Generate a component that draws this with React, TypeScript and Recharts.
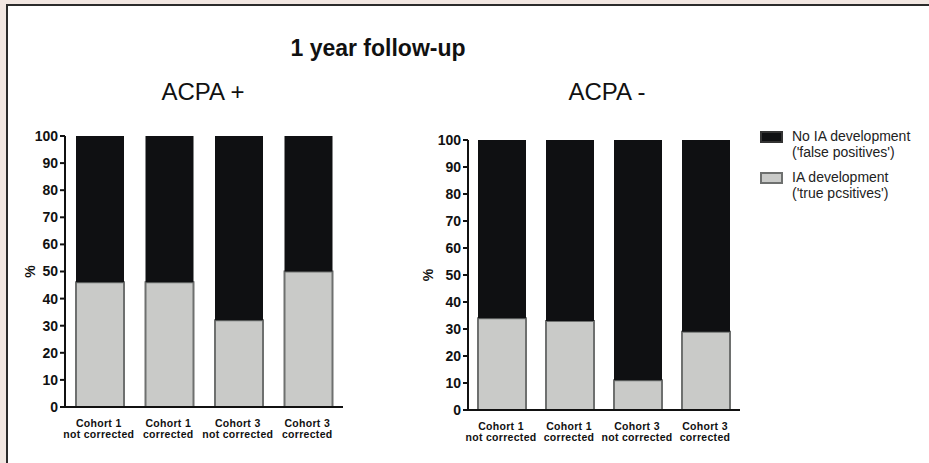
import React from 'react';
import { BarChart, Bar, XAxis, YAxis } from 'recharts';

const categories = [
  'Cohort 1|not corrected',
  'Cohort 1|corrected',
  'Cohort 3|not corrected',
  'Cohort 3|corrected',
];
const acpaPosTrue = [46, 46, 32, 50];
const acpaPosFalse = [54, 54, 68, 50];
const acpaNegTrue = [34, 33, 11, 29];
const acpaNegFalse = [66, 67, 89, 71];
const yTicks = [0, 10, 20, 30, 40, 50, 60, 70, 80, 90, 100];
const seriesNames = ["No IA development|('false positives')", "IA development|('true pcsitives')"];
const title = '1 year follow-up';
const panelTitles = ['ACPA +', 'ACPA -'];

const FONT = '"Liberation Sans", Arial, Helvetica, sans-serif';
const DARK = '#0f1012';
const LIGHT = '#c9cac8';
const LIGHT_STROKE = '#6e706f';

const posData = categories.map((c, i) => ({ name: c, t: acpaPosTrue[i], f: acpaPosFalse[i] }));
const negData = categories.map((c, i) => ({ name: c, t: acpaNegTrue[i], f: acpaNegFalse[i] }));

const CatTick = (props: any) => {
  const { x, y, payload } = props;
  const [a, b] = String(payload.value).split('|');
  return (
    <g>
      <text x={x - 1} y={y + 20} textAnchor="middle" fontSize={10.5} fontWeight="bold" fill="#111" fontFamily={FONT} letterSpacing={0.3}>
        {a}
      </text>
      <text x={x - 1} y={y + 31} textAnchor="middle" fontSize={10.5} fontWeight="bold" fill="#111" fontFamily={FONT} letterSpacing={0.3}>
        {b}
      </text>
    </g>
  );
};

const PctLabel = (dx: number) => (props: any) => {
  const vb = props.viewBox || {};
  const x = vb.x + dx;
  const y = vb.y + vb.height / 2;
  return (
    <text x={x} y={y} transform={`rotate(-90 ${x} ${y})`} textAnchor="middle" dominantBaseline="central" fontSize={14} fontWeight="bold" fill="#111" fontFamily={FONT}>
      %
    </text>
  );
};

function Panel({ data, width, height, margin, yWidth, labelDx }: any) {
  return (
    <BarChart width={width} height={height} data={data} margin={margin} barSize={48}>
      <XAxis
        dataKey="name"
        tickLine={false}
        tickSize={0}
        tickMargin={0}
        height={40}
        interval={0}
        axisLine={{ stroke: '#111', strokeWidth: 2 }}
        tick={<CatTick />}
      />
      <YAxis
        domain={[0, 100]}
        ticks={yTicks}
        interval={0}
        width={yWidth}
        tickSize={5}
        tickMargin={2}
        axisLine={{ stroke: '#111', strokeWidth: 2 }}
        tickLine={{ stroke: '#111', strokeWidth: 2 }}
        tick={{ fontSize: 14, fontWeight: 'bold', fill: '#111', fontFamily: FONT }}
        label={{ content: PctLabel(labelDx) } as any}
      />
      <Bar dataKey="t" stackId="a" fill={LIGHT} stroke={LIGHT_STROKE} strokeWidth={2} isAnimationActive={false} />
      <Bar dataKey="f" stackId="a" fill={DARK} isAnimationActive={false} />
    </BarChart>
  );
}

export default function App() {
  const legendItems = seriesNames.map((s, i) => ({ lines: s.split('|'), fill: i === 0 ? DARK : LIGHT, stroke: i === 0 ? '#333' : LIGHT_STROKE }));
  return (
    <div style={{ position: 'absolute', left: 0, top: 0, width: 929, height: 463, background: '#f2e7e2', overflow: 'hidden', fontFamily: FONT }}>
      <div style={{ position: 'absolute', left: 6, top: 4, width: 940, height: 480, background: '#fff', borderLeft: '2px solid #2b2b2b', borderTop: '2px solid #2b2b2b' }} />
      <div style={{ position: 'absolute', left: 0, width: 756, top: 34, textAlign: 'center', fontSize: 23, fontWeight: 'bold', color: '#111', lineHeight: '28px' }}>{title}</div>
      <div style={{ position: 'absolute', left: 103, width: 200, top: 78, textAlign: 'center', fontSize: 24, color: '#111', lineHeight: '28px' }}>{panelTitles[0]}</div>
      <div style={{ position: 'absolute', left: 507, width: 200, top: 78, textAlign: 'center', fontSize: 24, color: '#111', lineHeight: '28px' }}>{panelTitles[1]}</div>
      <div style={{ position: 'absolute', left: 0, top: 100 }}>
        <Panel data={posData} width={360} height={347} margin={{ top: 36, right: 17, bottom: 0, left: 0 }} yWidth={65} labelDx={30} />
      </div>
      <div style={{ position: 'absolute', left: 400, top: 100 }}>
        <Panel data={negData} width={350} height={350} margin={{ top: 40, right: 10, bottom: 0, left: 0 }} yWidth={68} labelDx={28} />
      </div>
      {legendItems.map((it, i) => (
        <div key={i} style={{ position: 'absolute', left: 760, top: 129 + i * 41 }}>
          <div style={{ position: 'absolute', left: 0, top: 2, width: 19, height: 8, background: it.fill, border: `2px solid ${it.stroke}` }} />
          <div style={{ position: 'absolute', left: 32, top: -1, width: 160, fontSize: 14, lineHeight: '16px', color: '#222' }}>
            {it.lines.map((l: string, j: number) => (
              <div key={j}>{l}</div>
            ))}
          </div>
        </div>
      ))}
    </div>
  );
}
